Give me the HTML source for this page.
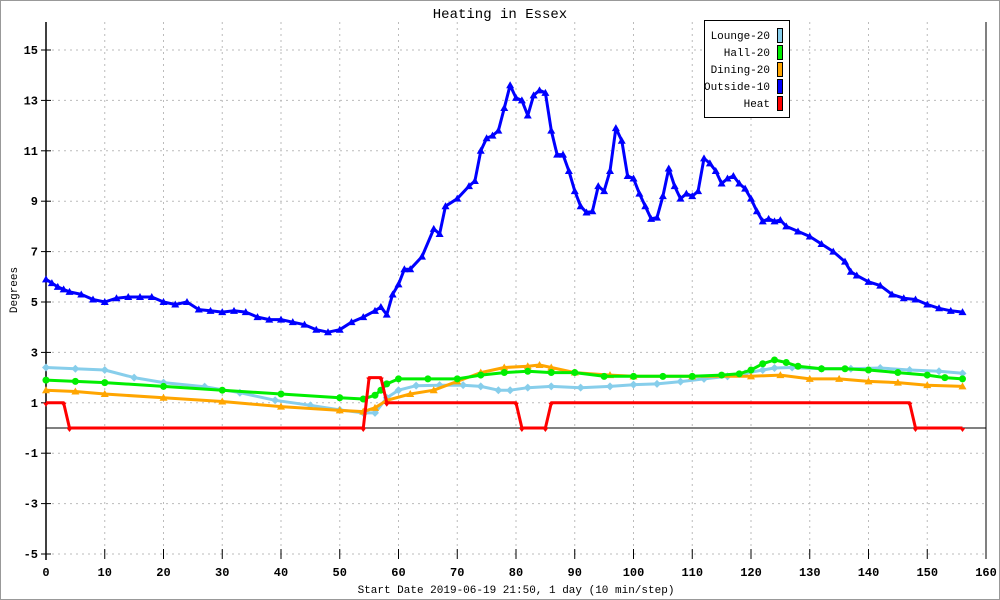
<!DOCTYPE html>
<html><head><meta charset="utf-8"><style>
html,body{margin:0;padding:0;background:#fff}
svg{display:block}
text{font-family:"Liberation Mono","DejaVu Sans Mono",monospace;font-size:11px;fill:#000}
.tick{font-weight:bold;font-size:12px}
</style></head><body>
<svg id="chart" width="1000" height="600">
<rect x="0.5" y="0.5" width="999" height="599" fill="#fff" stroke="#999"/>
<text x="500" y="18" text-anchor="middle" font-size="14" style="font-size:14px">Heating in Essex</text>
<text transform="translate(17,290) rotate(-90)" text-anchor="middle">Degrees</text>
<text x="516" y="593" text-anchor="middle">Start Date 2019-06-19 21:50, 1 day (10 min/step)</text>
<g id="grid"></g><g id="axes"></g><g id="series"></g>
<g>
<rect x="704.5" y="20.5" width="85" height="97" fill="#fff" stroke="#000"/>
<text x="770" y="39" text-anchor="end">Lounge-20</text><rect x="777.5" y="28.5" width="5" height="14" fill="#87ceeb" stroke="#000"/>
<text x="770" y="56" text-anchor="end">Hall-20</text><rect x="777.5" y="45.5" width="5" height="14" fill="#00ee00" stroke="#000"/>
<text x="770" y="73" text-anchor="end">Dining-20</text><rect x="777.5" y="62.5" width="5" height="14" fill="#ffa500" stroke="#000"/>
<text x="770" y="90" text-anchor="end">Outside-10</text><rect x="777.5" y="79.5" width="5" height="14" fill="#0000ff" stroke="#000"/>
<text x="770" y="107" text-anchor="end">Heat</text><rect x="777.5" y="96.5" width="5" height="14" fill="#ff0000" stroke="#000"/>
</g>
</svg>
<script>
const xTicks=[0,10,20,30,40,50,60,70,80,90,100,110,120,130,140,150,160];
const yTicks=[-5,-3,-1,1,3,5,7,9,11,13,15];
const outsideX=[0,1,2,3,4,6,8,10,12,14,16,18,20,22,24,26,28,30,32,34,36,38,40,42,44,46,48,50,52,54,56,57,58,59,60,61,62,64,66,67,68,70,72,73,74,75,76,77,78,79,80,81,82,83,84,85,86,87,88,89,90,91,92,93,94,95,96,97,98,99,100,101,102,103,104,105,106,107,108,109,110,111,112,113,114,115,116,117,118,119,120,121,122,123,124,125,126,128,130,132,134,136,137,138,140,142,144,146,148,150,152,154,156];
const outsideY=[5.9,5.75,5.6,5.5,5.4,5.3,5.1,5.0,5.15,5.2,5.2,5.2,5.0,4.9,5.0,4.7,4.65,4.6,4.65,4.6,4.4,4.3,4.3,4.2,4.1,3.9,3.8,3.9,4.2,4.4,4.65,4.8,4.5,5.3,5.7,6.3,6.3,6.8,7.9,7.7,8.8,9.1,9.6,9.8,11.0,11.5,11.6,11.8,12.7,13.6,13.1,13.0,12.4,13.2,13.4,13.3,11.8,10.85,10.85,10.2,9.4,8.8,8.55,8.6,9.6,9.4,10.2,11.9,11.4,10.0,9.9,9.3,8.8,8.3,8.35,9.2,10.3,9.6,9.1,9.3,9.2,9.4,10.7,10.5,10.2,9.7,9.9,10.0,9.7,9.5,9.1,8.6,8.2,8.3,8.2,8.25,8.0,7.8,7.6,7.3,7.0,6.6,6.2,6.05,5.8,5.65,5.3,5.15,5.1,4.9,4.75,4.65,4.6];
const loungeX=[0,5,10,15,20,27,33,39,45,50,54,56,58,60,63,67,71,74,77,79,82,86,91,96,100,104,108,112,116,119,122,124,127,132,137,142,147,152,156];
const loungeY=[2.4,2.35,2.3,2.0,1.8,1.64,1.4,1.1,0.9,0.72,0.6,0.6,1.2,1.5,1.68,1.7,1.7,1.65,1.5,1.5,1.6,1.65,1.6,1.65,1.72,1.75,1.84,1.95,2.05,2.17,2.3,2.38,2.4,2.35,2.35,2.38,2.3,2.25,2.17];
const hallX=[0,5,10,20,30,40,50,54,56,57,58,60,65,70,74,78,82,86,90,95,100,105,110,115,118,120,122,124,126,128,132,136,140,145,150,153,156];
const hallY=[1.9,1.85,1.8,1.65,1.5,1.35,1.2,1.15,1.3,1.5,1.75,1.95,1.95,1.95,2.1,2.2,2.25,2.2,2.2,2.05,2.05,2.05,2.05,2.1,2.15,2.3,2.55,2.7,2.6,2.45,2.35,2.35,2.3,2.2,2.1,2.0,1.95];
const diningX=[0,5,10,20,30,40,50,54,56,58,62,66,70,74,78,82,84,86,90,96,100,110,120,125,130,135,140,145,150,156];
const diningY=[1.5,1.45,1.35,1.2,1.05,0.85,0.7,0.65,0.8,1.1,1.35,1.5,1.85,2.2,2.4,2.45,2.5,2.4,2.2,2.1,2.05,2.05,2.05,2.1,1.95,1.95,1.85,1.8,1.7,1.65];
const heatX=[0,3,4,54,55,57,58,80,81,85,86,147,148,156];
const heatY=[1,1,0,0,2,2,1,1,0,0,1,1,0,0];

const X0=46,X1=986,Y0=554,Y1=50;
function sx(v){return X0+(v-0)*(X1-X0)/160;}
function sy(v){return Y0-(v+5)*(Y0-Y1)/20;}
const NS="http://www.w3.org/2000/svg";
function mk(tag,parent,attrs){const e=document.createElementNS(NS,tag);for(const k in attrs)e.setAttribute(k,attrs[k]);parent.appendChild(e);return e;}
const grid=document.getElementById('grid'),axes=document.getElementById('axes'),ser=document.getElementById('series');
xTicks.forEach(t=>{
  if(t>0){const g=mk('line',grid,{x1:sx(t),x2:sx(t),y1:22,y2:Y0,stroke:'#bbb','stroke-dasharray':'2,4'});
  
  }
  const tk=mk('line',axes,{x1:sx(t),x2:sx(t),y1:Y0-5,y2:Y0+5,stroke:'#000'});
  
  
  const lb=mk('text',axes,{x:sx(t),y:576,'text-anchor':'middle',class:'tick'});lb.textContent=t;
  
  
});
yTicks.forEach(t=>{
  const g=mk('line',grid,{x1:X0,x2:X1,y1:sy(t),y2:sy(t),stroke:'#bbb','stroke-dasharray':'2,4'});
  
  
  const tk=mk('line',axes,{x1:X0-5,x2:X0+5,y1:sy(t),y2:sy(t),stroke:'#000'});
  
  
  const lb=mk('text',axes,{x:38,y:sy(t)+4,'text-anchor':'end',class:'tick'});lb.textContent=t;
  
  
});
const ya=mk('line',axes,{x1:X0,x2:X0,y1:22,y2:Y0+6,stroke:'#000','stroke-width':1.5});


const ra=mk('line',axes,{x1:X1,x2:X1,y1:22,y2:Y0,stroke:'#000'});


const zl=mk('line',axes,{x1:X0,x2:X1,y1:sy(0),y2:sy(0),stroke:'#000'});



function series(xs,ys,color,name,marker){
  const g=mk('g',ser,{});
  
  
  const pts=xs.map((x,i)=>sx(x).toFixed(1)+','+sy(ys[i]).toFixed(1)).join(' ');
  const pl=mk('polyline',g,{points:pts,fill:'none',stroke:color,'stroke-width':3,'stroke-linejoin':'round'});
  
  
  xs.forEach((x,i)=>{
    const cx=sx(x),cy=sy(ys[i]);let m;
    if(marker==='circle')m=mk('circle',g,{cx:cx,cy:cy,r:3.5,fill:color});
    else if(marker==='tri')m=mk('polygon',g,{points:`${cx},${cy-4} ${cx-4},${cy+3} ${cx+4},${cy+3}`,fill:color});
    else if(marker==='down')m=mk('polygon',g,{points:`${cx-3},${cy} ${cx+3},${cy} ${cx},${cy+4}`,fill:color});
    else m=mk('polygon',g,{points:`${cx},${cy-4} ${cx+4},${cy} ${cx},${cy+4} ${cx-4},${cy}`,fill:color});
    
    
  });
}
series(loungeX,loungeY,'#87ceeb','lounge','diamond');
series(diningX,diningY,'#ffa500','dining','tri');
series(hallX,hallY,'#00ee00','hall','circle');
series(outsideX,outsideY,'#0000ff','outside','tri');
series(heatX,heatY,'#ff0000','heat','down');
</script>
</body></html>
